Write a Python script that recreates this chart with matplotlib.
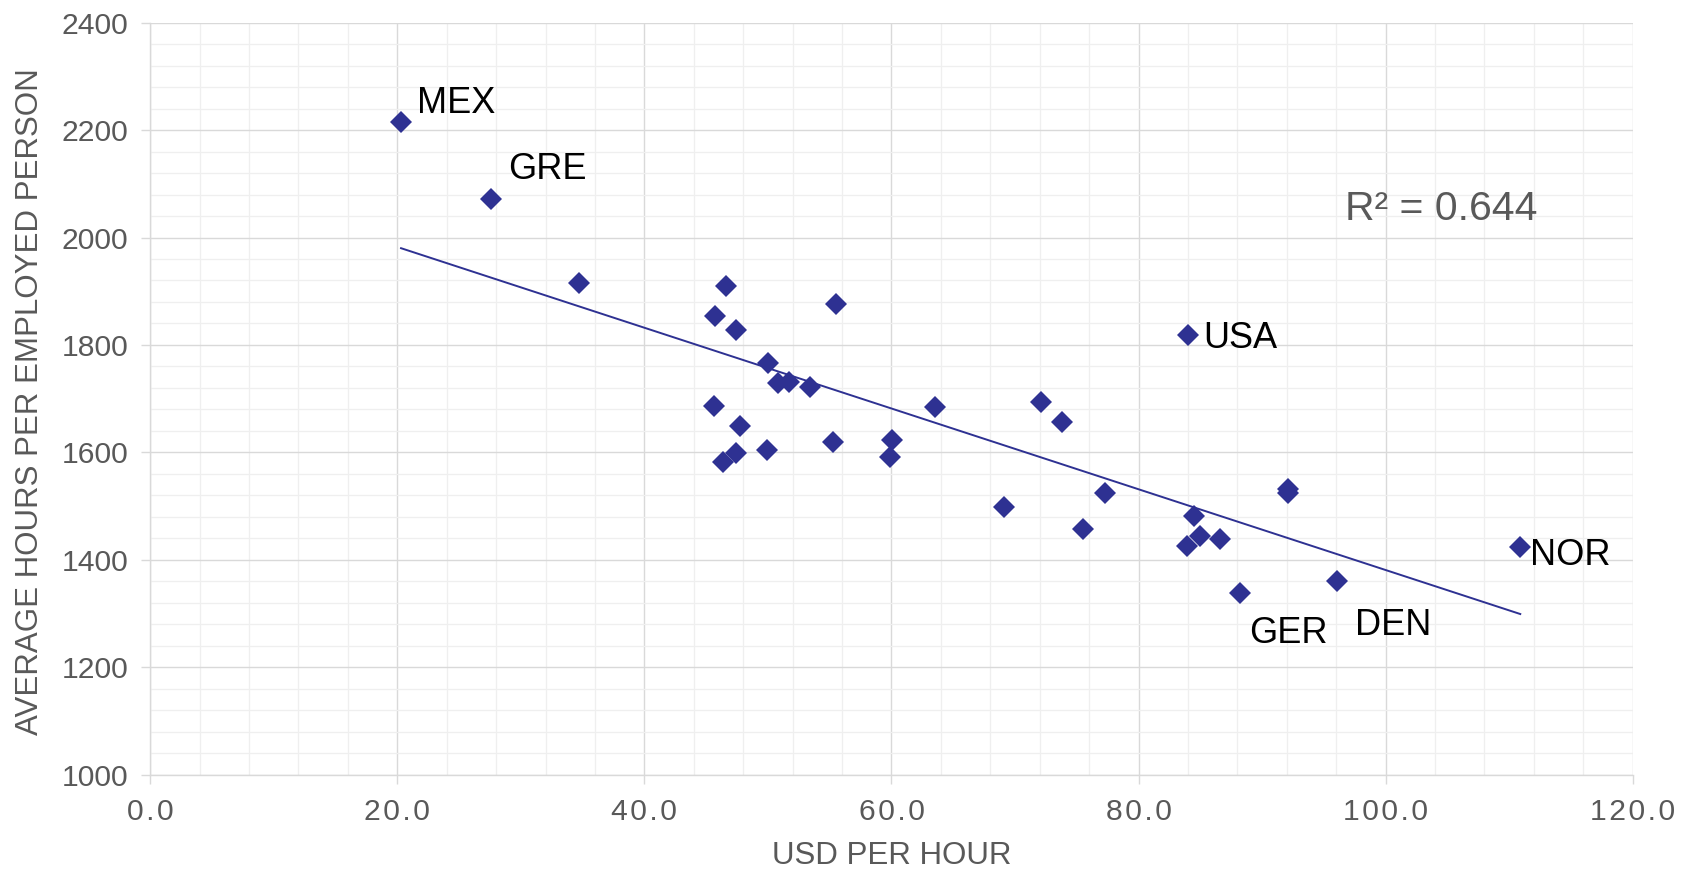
import numpy as np
import matplotlib.pyplot as plt
from matplotlib.ticker import MultipleLocator, FuncFormatter

plt.rcParams['font.family'] = ['Liberation Sans', 'DejaVu Sans']

# USD per hour vs average hours per employed person
usd = [20.3, 27.6, 34.7, 46.6, 45.75, 47.4, 55.5, 84.0, 50.0, 50.8,
       51.7, 53.4, 45.6, 47.7, 47.4, 46.4, 49.9, 55.3, 60.05, 59.9,
       63.5, 72.1, 73.8, 69.1, 77.3, 75.5, 84.5, 85.0, 83.9, 86.6,
       88.2, 92.1, 92.1, 96.1, 110.9]
hours = [2215, 2072, 1915, 1910, 1853, 1827, 1877, 1819, 1766, 1729,
         1731, 1721, 1687, 1649, 1599, 1582, 1604, 1619, 1623, 1592,
         1684, 1694, 1657, 1498, 1524, 1457, 1482, 1445, 1426, 1438,
         1339, 1532, 1525, 1361, 1424]

# labelled countries: index into the arrays, text offset in points
labels = {0: ('MEX', (11.6, 6.3)),
          1: ('GRE', (11.9, 14.4)),
          7: ('USA', (11.2, -9.8)),
          34: ('NOR', (6.8, -13.2)),
          30: ('GER', (6.8, -36.2)),
          33: ('DEN', (13.0, -39.1))}

r2_text = 'R² = 0.644'

navy = '#2E3192'
grey_txt = '#595959'

fig = plt.figure(figsize=(16.94, 8.73), dpi=100)
ax = fig.add_axes([0.0887, 0.1127, 0.8751, 0.8613])

x = np.array(usd)
y = np.array(hours)

ax.plot(x, y, linestyle='none', marker='D', markersize=11,
        color=navy, markeredgewidth=0, zorder=3)

# linear trendline
coef = np.polyfit(x, y, 1)
xs = np.array([x.min(), x.max()])
ax.plot(xs, np.polyval(coef, xs), color=navy, lw=1.4, zorder=2)

for i, (name, off) in labels.items():
    ax.annotate(name, (x[i], y[i]), xytext=off, textcoords='offset points',
                ha='left', va='baseline', fontsize=26, color='black')

ax.text(0.806, 0.7375, r2_text, transform=ax.transAxes, fontsize=29.5,
        color=grey_txt, ha='left', va='baseline')

ax.set_xlim(0, 120)
ax.set_ylim(1000, 2400)
ax.xaxis.set_major_locator(MultipleLocator(20))
ax.xaxis.set_minor_locator(MultipleLocator(4))
ax.yaxis.set_major_locator(MultipleLocator(200))
ax.yaxis.set_minor_locator(MultipleLocator(40))
# x tick labels are letter-spaced in the original
ax.xaxis.set_major_formatter(
    FuncFormatter(lambda v, p: '\u200a'.join(f'{v:.1f}')))

ax.grid(which='major', color='#d9d9d9', lw=1.0, zorder=0)
ax.grid(which='minor', color='#efefef', lw=0.9, zorder=0)
ax.set_axisbelow(True)

for s in ['top', 'right']:
    ax.spines[s].set_visible(False)
for s in ['left', 'bottom']:
    ax.spines[s].set_color('#d9d9d9')
    ax.spines[s].set_linewidth(1.0)

ax.tick_params(which='major', length=6.5, width=1.0, color='#d9d9d9',
               labelsize=21.7, labelcolor=grey_txt)
ax.tick_params(axis='y', which='major', pad=9.5)
ax.tick_params(axis='x', which='major', pad=10)
ax.tick_params(which='minor', length=0)

ax.set_xlabel('USD PER HOUR', fontsize=22.5, color=grey_txt, va='top')
ax.set_ylabel('AVERAGE HOURS PER EMPLOYED PERSON', fontsize=22.5,
              color=grey_txt)
ax.xaxis.set_label_coords(0.5, -0.088)
ax.yaxis.set_label_coords(-0.0713, 0.496)

fig.savefig('out.png', dpi=100)
